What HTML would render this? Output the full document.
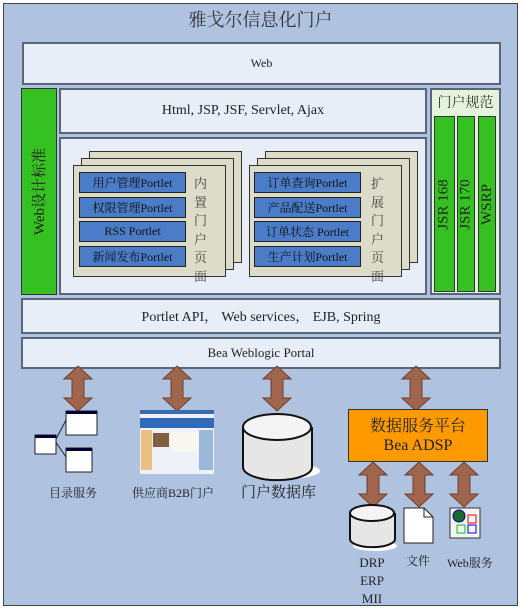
<!DOCTYPE html>
<html><head><meta charset="utf-8"><style>
*{margin:0;padding:0;box-sizing:border-box}
body{width:521px;height:609px;background:#fff;position:relative;overflow:hidden;font-family:"Liberation Serif","Noto Serif CJK SC",serif;color:#222}
.a{position:absolute}
.box{position:absolute;background:#e8eef8;border:2px solid #5a6678}
.c{display:flex;align-items:center;justify-content:center;text-align:center}
.pg{position:absolute;background:#dcdcc8;border:1px solid #333}
.bt{position:absolute;background:#4a7cc8;border:1px solid #222;font-size:12px;color:#111}
.g{position:absolute;background:#35c121;border:1px solid #333;overflow:visible}
.r{display:inline-block;transform:rotate(-90deg);white-space:nowrap;font-size:14px}
</style></head><body>
<div class="a" style="left:3px;top:3px;width:515px;height:603px;background:#afc2e0;border:1px solid #444"></div>
<div class="a c" style="left:3px;top:6px;width:515px;height:26px;font-size:18px;color:#333">雅戈尔信息化门户</div>
<div class="box c" style="left:22px;top:42px;width:479px;height:43px;font-size:12px">Web</div>
<div class="g c" style="left:21px;top:88px;width:36px;height:207px"><span class="r" style="font-size:15px">Web设计标准</span></div>
<div class="box c" style="left:59px;top:88px;width:368px;height:46px;font-size:14px">Html, JSP, JSF, Servlet, Ajax</div>
<div class="box" style="left:59px;top:137px;width:368px;height:158px"></div>
<div class="pg" style="left:89px;top:151px;width:153px;height:112px"></div>
<div class="pg" style="left:81px;top:158px;width:153px;height:112px"></div>
<div class="pg" style="left:73px;top:165px;width:153px;height:112px"></div>
<div class="bt c" style="left:79px;top:172px;width:107px;height:21px">用户管理Portlet</div>
<div class="bt c" style="left:79px;top:197px;width:107px;height:21px">权限管理Portlet</div>
<div class="bt c" style="left:79px;top:221px;width:107px;height:21px">RSS Portlet</div>
<div class="bt c" style="left:79px;top:246px;width:107px;height:21px">新闻发布Portlet</div>
<div class="a" style="left:194px;top:175px;width:16px;font-size:13px;line-height:18.5px;color:#444">内置门户页面</div>
<div class="pg" style="left:265px;top:151px;width:153px;height:112px"></div>
<div class="pg" style="left:257px;top:158px;width:153px;height:112px"></div>
<div class="pg" style="left:249px;top:165px;width:153px;height:112px"></div>
<div class="bt c" style="left:254px;top:172px;width:107px;height:21px">订单查询Portlet</div>
<div class="bt c" style="left:254px;top:197px;width:107px;height:21px">产品配送Portlet</div>
<div class="bt c" style="left:254px;top:221px;width:107px;height:21px">订单状态 Portlet</div>
<div class="bt c" style="left:254px;top:246px;width:107px;height:21px">生产计划Portlet</div>
<div class="a" style="left:371px;top:175px;width:16px;font-size:13px;line-height:18.5px;color:#444">扩展门户页面</div>
<div class="a" style="left:430px;top:88px;width:71px;height:207px;background:#e4f4dc;border:2px solid #5a6678"></div>
<div class="a c" style="left:430px;top:92px;width:71px;font-size:14px;color:#333">门户规范</div>
<div class="g c" style="left:434px;top:116px;width:21px;height:176px"><span class="r" style="font-size:15px">JSR 168</span></div>
<div class="g c" style="left:457px;top:116px;width:18px;height:176px"><span class="r" style="font-size:15px">JSR 170</span></div>
<div class="g c" style="left:478px;top:116px;width:18px;height:176px"><span class="r" style="font-size:15px">WSRP</span></div>
<div class="box c" style="left:21px;top:298px;width:480px;height:36px;font-size:14px">Portlet API， Web services， EJB, Spring</div>
<div class="box c" style="left:21px;top:337px;width:480px;height:32px;font-size:13px">Bea Weblogic Portal</div>
<svg class="a" style="left:0;top:0" width="521" height="609">
<defs><g id="ar"><polygon points="0,10 14,-3 28,10 20,10 20,29 28,29 14,42 0,29 8,29 8,10" fill="#a0654a" stroke="#6b3f2c" stroke-width="1"/></g></defs>
<use href="#ar" x="64" y="369"/><use href="#ar" x="163" y="369"/><use href="#ar" x="263" y="369"/><use href="#ar" x="402" y="369"/>
<use href="#ar" x="359" y="465"/><use href="#ar" x="405" y="465"/><use href="#ar" x="450" y="465"/>
<ellipse cx="285" cy="471" rx="35" ry="8" fill="#fff"/>
<path d="M243,427 v40 a34,13 0 0 0 69,0 v-40" fill="#e6e6e6" stroke="#111" stroke-width="2"/>
<ellipse cx="277" cy="427" rx="34" ry="13" fill="#f4f4f4" stroke="#111" stroke-width="2"/>
<ellipse cx="375" cy="546" rx="22" ry="5" fill="#fff"/>
<path d="M350,513 v26 a22,8 0 0 0 45,0 v-26" fill="#e6e6e6" stroke="#111" stroke-width="2"/>
<ellipse cx="372" cy="513" rx="22" ry="8" fill="#f4f4f4" stroke="#111" stroke-width="2"/>
<path d="M404,508 h20 l9,9 v26 h-29 z" fill="#fff" stroke="#222"/>
<path d="M424,508 v9 h9" fill="none" stroke="#222"/>
<rect x="450" y="508" width="30" height="30" fill="#f4f4f4" stroke="#333"/>
<circle cx="459" cy="516" r="6" fill="#1a6a2a" stroke="#00a"/>
<rect x="468" y="515" width="8" height="8" fill="none" stroke="#e00"/>
<rect x="457" y="525" width="8" height="8" fill="none" stroke="#0c0"/>
<rect x="468" y="525" width="8" height="8" fill="none" stroke="#00f"/>
<line x1="55" y1="441" x2="66" y2="420" stroke="#222"/><line x1="55" y1="441" x2="66" y2="457" stroke="#222"/>
<rect x="35" y="435" width="21" height="19" fill="#fff" stroke="#222"/><rect x="35" y="435" width="21" height="3" fill="#003"/>
<rect x="66" y="411" width="31" height="24" fill="#fff" stroke="#222"/><rect x="66" y="411" width="31" height="3" fill="#003"/>
<rect x="66" y="448" width="26" height="24" fill="#fff" stroke="#222"/><rect x="66" y="448" width="26" height="3" fill="#003"/>
<rect x="140" y="410" width="74" height="64" fill="#eef2f8"/>
<rect x="140" y="410" width="74" height="4" fill="#3a6ab0"/>
<rect x="140" y="418" width="74" height="10" fill="#2e6ab8"/>
<rect x="141" y="430" width="11" height="40" fill="#e8c080"/>
<rect x="153" y="433" width="16" height="14" fill="#806040"/>
<rect x="170" y="432" width="28" height="20" fill="#f8f8f0"/>
<rect x="199" y="430" width="14" height="40" fill="#9ab8d8"/>
</svg>
<div class="a c" style="left:348px;top:409px;width:140px;height:53px;background:#ff9900;border:1px solid #333;font-size:16px;line-height:19px">数据服务平台<br>Bea ADSP</div>
<div class="a" style="left:49px;top:484px;font-size:12px">目录服务</div>
<div class="a" style="left:132px;top:484px;font-size:12px">供应商B2B门户</div>
<div class="a" style="left:241px;top:481px;font-size:15px">门户数据库</div>
<div class="a" style="left:352px;top:554px;width:40px;text-align:center;font-size:13px;line-height:18px">DRP<br>ERP<br>MII</div>
<div class="a" style="left:406px;top:552px;font-size:12px">文件</div>
<div class="a" style="left:447px;top:554px;font-size:12px">Web服务</div>
</body></html>
